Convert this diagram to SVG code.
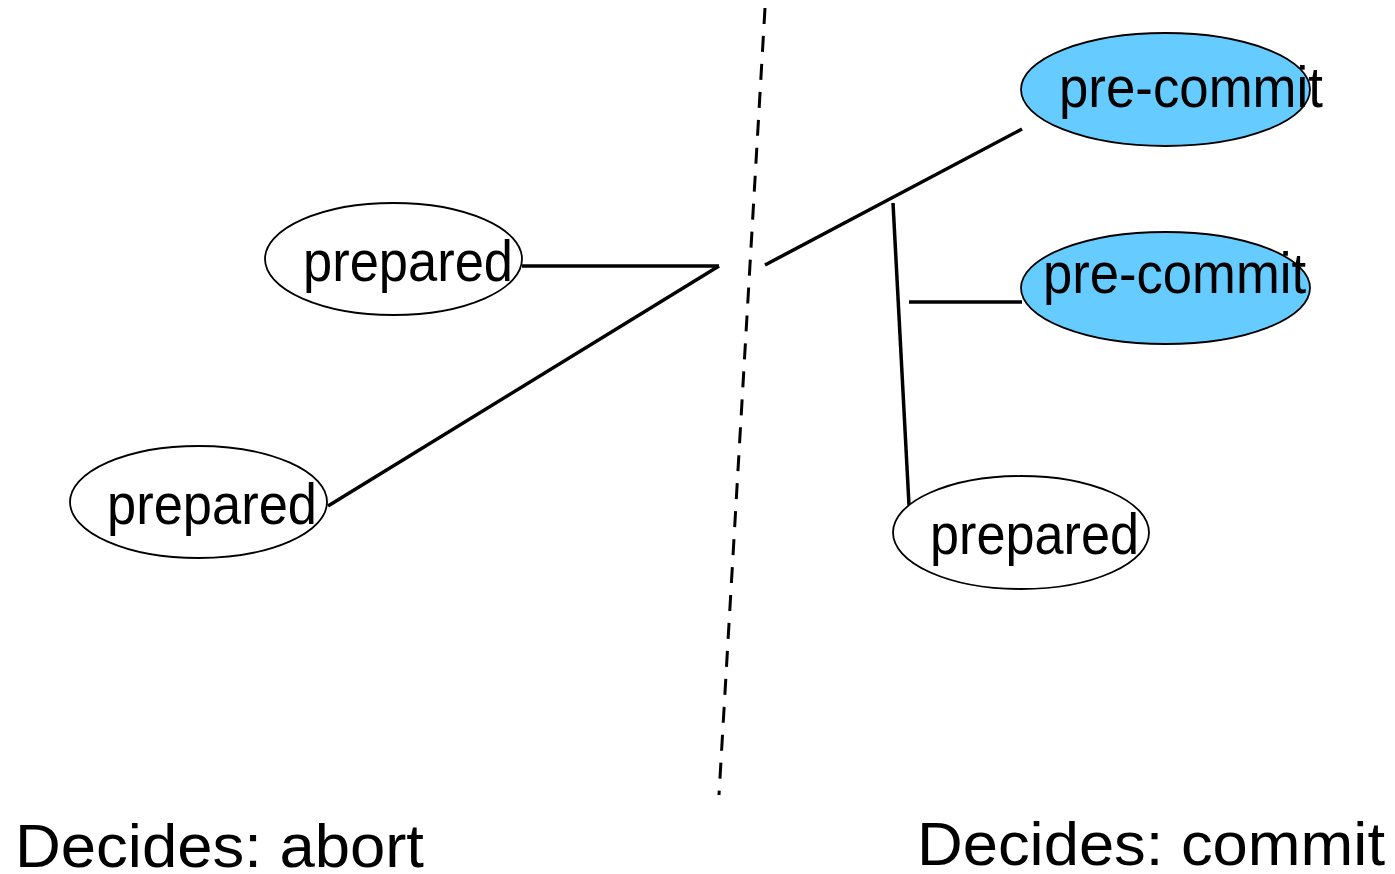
<svg xmlns="http://www.w3.org/2000/svg" width="1395" height="874" viewBox="0 0 1395 874">
<style>
.node ellipse{stroke:#000;stroke-width:1.8}
.white{fill:#fff}
.blue{fill:#66CCFF}
text{font-family:"Liberation Sans",Arial,sans-serif;fill:#000}
.lbl{font-size:57px}
.big{font-size:62px}
.conn line{stroke:#000;stroke-width:3.5;fill:none}
.divider{stroke:#000;stroke-width:3;stroke-dasharray:16 12}
</style>
<rect width="1395" height="874" fill="#fff"/>
<line class="divider" x1="765" y1="8" x2="719" y2="795"/>
<g id="connectors" class="conn">
<line x1="522" y1="266" x2="719" y2="266"/>
<line x1="719" y1="266" x2="328" y2="506"/>
<line x1="765" y1="265" x2="1022" y2="129"/>
<line x1="893" y1="203" x2="909" y2="505"/>
<line x1="909" y1="302" x2="1022" y2="302"/>
</g>
<g id="prepared1" class="node">
<ellipse class="white" cx="393.5" cy="259" rx="128.5" ry="56"/>
<text class="lbl" x="303" y="281" textLength="210" lengthAdjust="spacingAndGlyphs">prepared</text>
</g>
<g id="prepared2" class="node">
<ellipse class="white" cx="198.5" cy="502" rx="128.5" ry="56"/>
<text class="lbl" x="107" y="524" textLength="210" lengthAdjust="spacingAndGlyphs">prepared</text>
</g>
<g id="prepared3" class="node">
<ellipse class="white" cx="1021" cy="532.5" rx="128" ry="56.5"/>
<text class="lbl" x="930" y="554" textLength="209" lengthAdjust="spacingAndGlyphs">prepared</text>
</g>
<g id="precommit1" class="node">
<ellipse class="blue" cx="1165.5" cy="89.5" rx="144.5" ry="56.5"/>
<text class="lbl" x="1059" y="107" textLength="264" lengthAdjust="spacingAndGlyphs">pre-commit</text>
</g>
<g id="precommit2" class="node">
<ellipse class="blue" cx="1165.5" cy="288" rx="144.5" ry="56"/>
<text class="lbl" x="1043" y="293" textLength="263" lengthAdjust="spacingAndGlyphs">pre-commit</text>
</g>
<g id="label-abort">
<text class="big" x="15" y="867" textLength="409" lengthAdjust="spacingAndGlyphs">Decides: abort</text>
</g>
<g id="label-commit">
<text class="big" x="917" y="865" textLength="468" lengthAdjust="spacingAndGlyphs">Decides: commit</text>
</g>
</svg>
